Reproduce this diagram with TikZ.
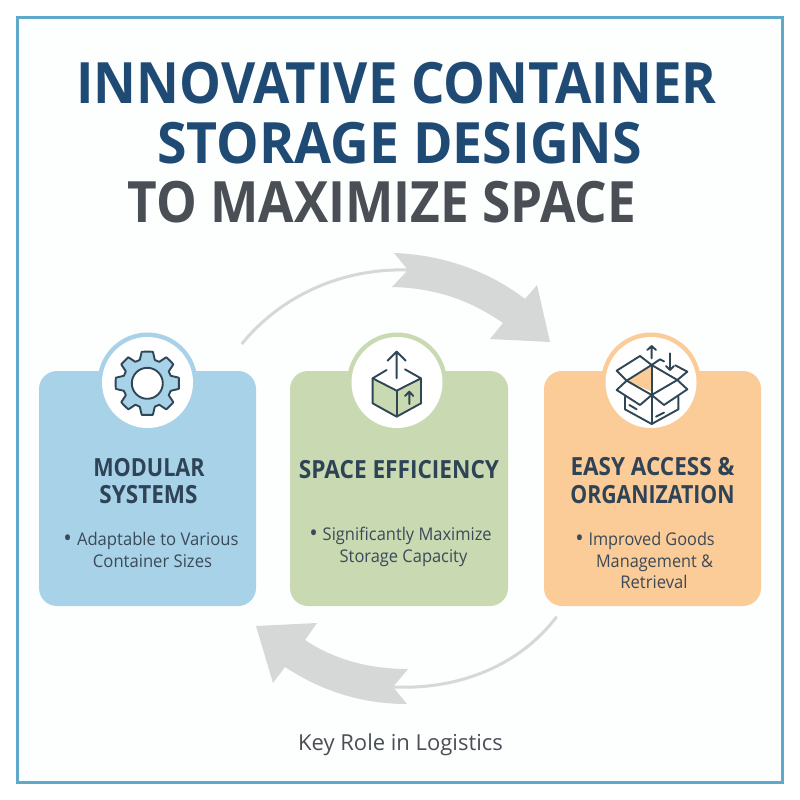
\documentclass[tikz,border=0pt]{standalone}
\usepackage{fontspec}
\setmainfont{Open Sans}
\definecolor{framec}{HTML}{5FA9CC}
\definecolor{bgc}{HTML}{FDFEFE}
\definecolor{navy}{HTML}{1F4A74}
\definecolor{slate}{HTML}{4A4F55}
\definecolor{ink}{HTML}{2E4355}
\definecolor{cblue}{HTML}{A8D2E8}
\definecolor{cgreen}{HTML}{C9DAB2}
\definecolor{corange}{HTML}{FBCB98}
\definecolor{arrowc}{HTML}{D6D8D8}
\definecolor{iconc}{HTML}{2F4656}
\definecolor{bodyc}{HTML}{3A4A58}
\newcommand{\squeeze}[2]{\scalebox{#1}[1]{#2}}
\newcommand{\cardbullet}{\raisebox{-1.4pt}{\fontsize{24}{24}\selectfont •}\hspace{0.3em}}
\tikzset{
  card/.style={rounded corners=18pt,line width=0pt},
  titleline/.style={font=\fontsize{57}{57}\selectfont\bfseries,inner sep=0pt,anchor=base},
  cardhead/.style={font=\fontsize{25}{25}\selectfont\bfseries,text=ink,inner sep=0pt,anchor=base},
  cardbody/.style={font=\fontsize{17.5}{17}\selectfont,text=bodyc,inner sep=0pt,anchor=base},
  icon/.style={draw=iconc,line width=1.9pt,line join=round,line cap=round},
  thinarc/.style={draw=arrowc,line width=3pt},
  fatarrow/.style={fill=arrowc,draw=none},
}
\begin{document}
\begin{tikzpicture}[x=1pt,y=-1pt]
\useasboundingbox (0,0) rectangle (800,800);
\fill[white] (0,0) rectangle (800,800);
\draw[framec,line width=3pt,fill=bgc] (17.5,17.5) rectangle (782.5,782.5);

\node[titleline,text=navy] (t1) at (396.5,103.5) {\squeeze{.925}{INNOVATIVE CONTAINER}};
\node[titleline,text=navy] (t2) at (399.5,163.5) {\squeeze{.94}{STORAGE DESIGNS}};
\node[titleline,text=slate] (t3) at (382,222.5) {\squeeze{.9}{TO MAXIMIZE SPACE}};

% arrows
\draw[thinarc] (241.7,344) .. controls (280,297) and (340,268) .. (408,270);
\fill[fatarrow] (394,253) -- (408,270) -- (392,287) .. controls (435,288) and (470,300) .. (503,323)
  -- (490,339) -- (550,342) -- (537,285) -- (525,299) .. controls (490,272) and (445,255) .. (394,253) -- cycle;
\draw[thinarc] (556.7,616.7) .. controls (520,665) and (460,690) .. (393,687);
\fill[fatarrow] (408,669) -- (393,687) -- (407,704) .. controls (360,704) and (320,690) .. (285,667)
  -- (273,683) -- (256,626) -- (317,623) -- (305,640) .. controls (335,660) and (370,669) .. (408,669) -- cycle;

% cards
\foreach \cx/\x/\w/\c in {147.5/39/217/cblue,397/290/218/cgreen,651/544/217/corange}{
  \fill[\c] (\cx,382.5) circle (50);
  \fill[\c,card] (\x,371) rectangle ++(\w,235);
  \fill[white] (\cx,382.5) circle (45.5);
}

% gear
\begin{scope}[shift={(147.3,383.3)}]
\draw[icon,fill=cblue] plot[smooth cycle,tension=0.08] coordinates {
  (-5.5,-31.5)(5.5,-31.5)(7.5,-23.5)(12,-21.5)(19,-26)(26,-19)(21.5,-12)(23.5,-7.5)(31.5,-5.5)
  (31.5,5.5)(23.5,7.5)(21.5,12)(26,19)(19,26)(12,21.5)(7.5,23.5)(5.5,31.5)
  (-5.5,31.5)(-7.5,23.5)(-12,21.5)(-19,26)(-26,19)(-21.5,12)(-23.5,7.5)(-31.5,5.5)
  (-31.5,-5.5)(-23.5,-7.5)(-21.5,-12)(-26,-19)(-19,-26)(-12,-21.5)(-7.5,-23.5)};
\draw[icon,fill=white] (0,0) circle (15.5);
\end{scope}

% green box (coordinates read from a 3x crop at 90,320)
\begin{scope}[shift={(90,320)},x=0.3333pt,y=-0.3333pt]
\fill[cgreen] (848,175) -- (920,212) -- (993,175) -- (993,250) -- (920,290) -- (848,250) -- cycle;
\draw[icon] (890,150) -- (848,175) -- (920,212) -- (993,175) -- (945,148);
\draw[icon] (848,175) -- (848,250) -- (920,290) -- (993,250) -- (993,175);
\draw[icon] (920,212) -- (920,290);
\draw[icon] (920,175) -- (920,95) (893,122) -- (920,95) -- (947,122);
\draw[icon] (958,252) -- (958,215) (945,228) -- (958,215) -- (970,228);
\end{scope}

% orange box (coordinates read from a 3x crop at 590,320)
\begin{scope}[shift={(590,320)},x=0.3333pt,y=-0.3333pt]
\fill[corange] (110,182) -- (185,140) -- (185,215) -- cycle;
\draw[icon] (80,152) -- (150,108) -- (185,135) -- (110,182) -- cycle;
\draw[icon] (185,135) -- (210,118) -- (222,124);
\draw[icon] (256,136) -- (292,155) -- (262,180) -- (185,135);
\draw[icon] (110,182) -- (80,210) -- (150,255) -- (185,225) -- (110,182);
\draw[icon] (262,180) -- (292,208) -- (222,255) -- (185,225) -- (262,180);
\draw[icon] (105,230) -- (105,268) -- (185,312) -- (265,268) -- (265,230);
\draw[icon] (185,135) -- (185,312);
\draw[icon] (118,255) -- (140,268) (198,290) -- (222,278);
\draw[icon] (185,115) -- (185,78) (172,90) -- (185,78) -- (198,90);
\draw[icon] (240,100) -- (240,150) (228,138) -- (240,150) -- (252,138);
\end{scope}

% texts
\node[cardhead] (h1a) at (149,476) {\squeeze{.865}{MODULAR}};
\node[cardhead] (h1b) at (148.5,503) {\squeeze{.90}{SYSTEMS}};
\node[cardbody] (b1a) at (151,545) {\squeeze{.95}{\cardbullet Adaptable to Various}};
\node[cardbody] (b1b) at (152.5,567) {\squeeze{.95}{Container Sizes}};
\node[cardhead] (h2) at (399,478) {\squeeze{.905}{SPACE EFFICIENCY}};
\node[cardbody] (b2a) at (400.5,540) {\squeeze{.94}{\cardbullet Significantly Maximize}};
\node[cardbody] (b2b) at (403.5,562) {\squeeze{.94}{Storage Capacity}};
\node[cardhead] (h3a) at (652.5,475) {\squeeze{.90}{EASY ACCESS \&}};
\node[cardhead] (h3b) at (652.5,503) {\squeeze{.85}{ORGANIZATION}};
\node[cardbody] (b3a) at (645,545) {\squeeze{.93}{\cardbullet Improved Goods}};
\node[cardbody] (b3b) at (654.5,567) {\squeeze{.93}{Management \&}};
\node[cardbody] (b3c) at (654,588) {\squeeze{.95}{Retrieval}};
\node[font=\fontsize{22}{22}\selectfont,text=slate,inner sep=0pt] (key) at (400.5,744.5) {Key Role in Logistics};
\end{tikzpicture}
\end{document}
